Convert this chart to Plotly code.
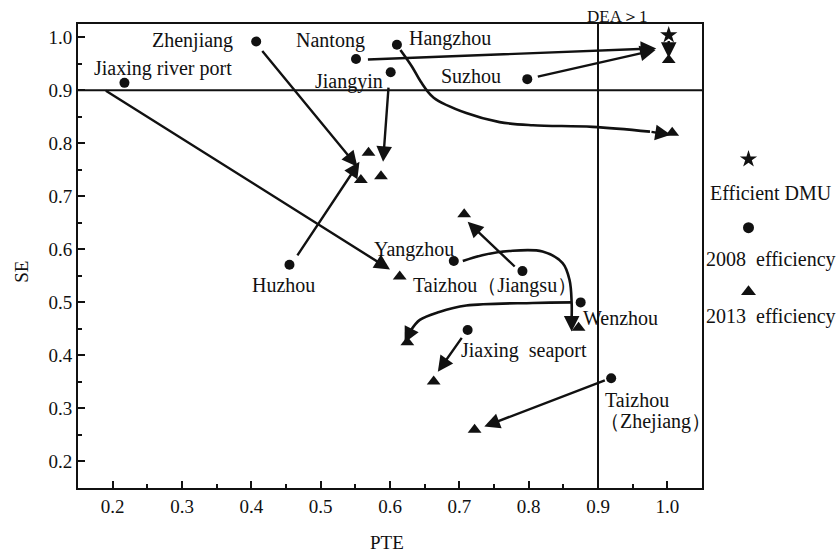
import plotly.graph_objects as go

# ---------------- data ----------------
ports = ["Jiaxing river port", "Zhenjiang", "Nantong", "Hangzhou", "Jiangyin", "Suzhou",
         "Huzhou", "Yangzhou", "Taizhou（Jiangsu）", "Wenzhou", "Jiaxing seaport", "Taizhou（Zhejiang）"]
pte_2008 = [0.217, 0.407, 0.551, 0.610, 0.601, 0.798, 0.455, 0.692, 0.791, 0.875, 0.712, 0.919]
se_2008 = [0.914, 0.992, 0.959, 0.986, 0.934, 0.921, 0.571, 0.578, 0.559, 0.500, 0.448, 0.357]

pte_2013 = [0.569, 0.558, 0.587, 0.707, 0.614, 0.625, 0.663, 0.722, 0.872, 1.007, 1.002]
se_2013 = [0.782, 0.731, 0.738, 0.666, 0.549, 0.425, 0.351, 0.260, 0.452, 0.820, 0.957]

eff_pte = [1.002]
eff_se = [1.004]

# straight arrows: (tail_x, tail_y, head_x, head_y)
arrows_straight = [
    (0.188, 0.901, 0.600, 0.562),   # Jiaxing river port
    (0.414, 0.977, 0.553, 0.756),   # Zhenjiang
    (0.465, 0.586, 0.556, 0.765),   # Huzhou
    (0.598, 0.908, 0.590, 0.765),   # Jiangyin
    (0.566, 0.958, 0.984, 0.979),   # Nantong
    (0.811, 0.925, 0.983, 0.976),   # Suzhou
    (0.782, 0.565, 0.712, 0.652),   # Taizhou (Jiangsu)
    (0.705, 0.436, 0.669, 0.369),   # Jiaxing seaport
    (0.912, 0.354, 0.736, 0.266),   # Taizhou (Zhejiang)
    (1.002, 0.996, 1.002, 0.961),   # Efficient DMU
]

# curved arrows (path points, last point = arrow tip)
hangzhou_curve_x = [0.615, 0.632, 0.644, 0.663, 0.710, 0.758, 0.806, 0.892, 0.975, 1.005]
hangzhou_curve_y = [0.976, 0.944, 0.917, 0.886, 0.857, 0.840, 0.834, 0.831, 0.822, 0.816]
yangzhou_curve_x = [0.705, 0.733, 0.772, 0.820, 0.849, 0.859, 0.862, 0.862, 0.862]
yangzhou_curve_y = [0.578, 0.589, 0.597, 0.596, 0.574, 0.542, 0.499, 0.470, 0.445]
wenzhou_curve_x = [0.862, 0.806, 0.710, 0.671, 0.643, 0.630, 0.621]
wenzhou_curve_y = [0.500, 0.499, 0.494, 0.482, 0.467, 0.447, 0.424]

# text labels: (text, x, y, xanchor)
labels = [
    ("Jiaxing river port", 0.272, 0.942, "center"),
    ("Zhenjiang", 0.376, 0.994, "right"),
    ("Nantong", 0.514, 0.994, "center"),
    ("Hangzhou", 0.624, 0.998, "left"),
    ("Jiangyin", 0.541, 0.917, "center"),
    ("Suzhou", 0.717, 0.927, "center"),
    ("Huzhou", 0.446, 0.533, "center"),
    ("Yangzhou", 0.635, 0.599, "center"),
    ("Taizhou（Jiangsu）", 0.751, 0.531, "center"),
    ("Wenzhou", 0.876, 0.471, "left"),
    ("Jiaxing  seaport", 0.793, 0.409, "center"),
    ("Taizhou", 0.907, 0.316, "left"),
    ("（Zhejiang）", 0.900, 0.276, "left"),
]

threshold = 0.9
x_range = [0.15, 1.05]
y_range = [0.15, 1.025]
tick_vals = [0.2, 0.3, 0.4, 0.5, 0.6, 0.7, 0.8, 0.9, 1.0]
tick_text = ["0.2", "0.3", "0.4", "0.5", "0.6", "0.7", "0.8", "0.9", "1.0"]

# legend items drawn on a side axis (y in SE units)
legend_labels = ["Efficient DMU", "2008  efficiency", "2013  efficiency"]
legend_symbols = ["star", "circle", "triangle-up"]
legend_marker_y = [0.770, 0.641, 0.520]
legend_text_y = [0.706, 0.580, 0.473]

FONT = "Liberation Serif, Times New Roman, serif"
BLACK = "#111111"

W, H = 839, 553
ML, MR, MT, MB = 78, 2, 24, 65
plot_w = W - ML - MR
plot_h = H - MT - MB
main_w = 624
split = main_w / plot_w

fig = go.Figure()

for cx, cy in [(hangzhou_curve_x, hangzhou_curve_y),
               (yangzhou_curve_x, yangzhou_curve_y),
               (wenzhou_curve_x, wenzhou_curve_y)]:
    fig.add_trace(go.Scatter(x=cx[:-1], y=cy[:-1], mode="lines",
                             line=dict(color=BLACK, width=2.6, shape="spline", smoothing=1.0),
                             hoverinfo="skip", showlegend=False))

fig.add_trace(go.Scatter(x=pte_2008, y=se_2008, mode="markers",
                         marker=dict(symbol="circle", size=10, color=BLACK),
                         text=ports, showlegend=False))
fig.add_trace(go.Scatter(x=pte_2013, y=se_2013, mode="markers",
                         marker=dict(symbol="triangle-up", size=12, color=BLACK),
                         showlegend=False))
fig.add_trace(go.Scatter(x=eff_pte, y=eff_se, mode="markers",
                         marker=dict(symbol="star", size=13, color=BLACK),
                         showlegend=False))

for name, sym, my, ty in zip(legend_labels, legend_symbols, legend_marker_y, legend_text_y):
    fig.add_trace(go.Scatter(x=[46.5], y=[my], xaxis="x2", yaxis="y", mode="markers",
                             marker=dict(symbol=sym, size=13 if sym != "circle" else 11, color=BLACK),
                             showlegend=False, hoverinfo="skip"))
    fig.add_annotation(x=68.5, y=ty, xref="x2", yref="y", text=name, showarrow=False,
                       font=dict(family=FONT, size=20, color=BLACK), xanchor="center", yanchor="middle")

annots = []
for tx, ty, hx, hy in arrows_straight:
    annots.append(dict(x=hx, y=hy, ax=tx, ay=ty, xref="x", yref="y", axref="x", ayref="y",
                       text="", showarrow=True, arrowhead=2, arrowsize=1.3, arrowwidth=2.4,
                       arrowcolor=BLACK))
for cx, cy in [(hangzhou_curve_x, hangzhou_curve_y),
               (yangzhou_curve_x, yangzhou_curve_y),
               (wenzhou_curve_x, wenzhou_curve_y)]:
    annots.append(dict(x=cx[-1], y=cy[-1], ax=cx[-2], ay=cy[-2], xref="x", yref="y",
                       axref="x", ayref="y", text="", showarrow=True, arrowhead=2,
                       arrowsize=1.3, arrowwidth=2.4, arrowcolor=BLACK))
for txt, lx, ly, xa in labels:
    annots.append(dict(x=lx, y=ly, xref="x", yref="y", text=txt, showarrow=False,
                       xanchor=xa, yanchor="middle",
                       font=dict(family=FONT, size=20, color=BLACK)))
annots.append(dict(x=0.927, y=1 + 8 / plot_h, xref="x", yref="paper", text="DEA＞1", showarrow=False,
                   xanchor="center", yanchor="middle", font=dict(family=FONT, size=17, color=BLACK)))
annots.append(dict(x=-57.3 / plot_w, y=0.4655, xref="paper", yref="paper", text="SE", showarrow=False,
                   textangle=-90, xanchor="center", yanchor="middle",
                   font=dict(family=FONT, size=19, color=BLACK)))
annots.append(dict(x=309 / plot_w, y=-54 / plot_h, xref="paper", yref="paper", text="PTE", showarrow=False,
                   xanchor="center", yanchor="middle",
                   font=dict(family=FONT, size=19, color=BLACK)))
for a in annots:
    fig.add_annotation(**a)

fig.add_shape(type="line", xref="x", yref="y", x0=x_range[0], x1=x_range[1], y0=threshold, y1=threshold,
              line=dict(color=BLACK, width=2))
fig.add_shape(type="line", xref="x", yref="y", x0=threshold, x1=threshold, y0=y_range[0], y1=y_range[1],
              line=dict(color=BLACK, width=2))

axis_common = dict(showgrid=False, zeroline=False, showline=True, linecolor=BLACK, linewidth=2,
                   mirror=True, ticks="inside", ticklen=7, tickwidth=2, tickcolor=BLACK,
                   tickvals=tick_vals, ticktext=tick_text,
                   tickfont=dict(family=FONT, size=19, color=BLACK),
                   minor=dict(ticks="inside", ticklen=4, tickwidth=2, tickcolor=BLACK, dtick=0.05,
                              tick0=0.15, showgrid=False))
fig.update_layout(
    xaxis=dict(range=x_range, domain=[0, split], **axis_common),
    yaxis=dict(range=y_range, domain=[0, 1], **axis_common),
    xaxis2=dict(range=[0, plot_w - main_w], domain=[split, 1], anchor="y", visible=False,
                showgrid=False, zeroline=False),
    width=W, height=H, margin=dict(l=ML, r=MR, t=MT, b=MB),
    paper_bgcolor="white", plot_bgcolor="white", showlegend=False)

fig.write_html("out.html", config={"displayModeBar": False},
               post_script="document.body.style.margin='0px';")
